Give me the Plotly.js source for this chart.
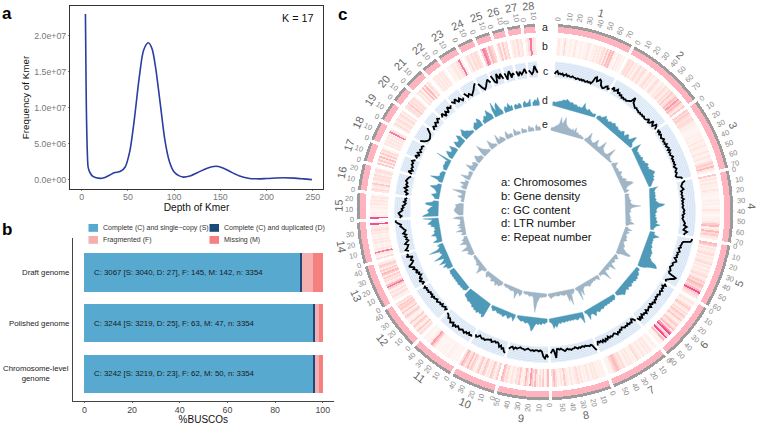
<!DOCTYPE html>
<html><head><meta charset="utf-8">
<script src="https://cdn.plot.ly/plotly-3.0.1.min.js"></script>
<style>html,body{margin:0;padding:0;background:#fff}#c{width:758px;height:425px}</style>
</head><body><div id="c"></div>
<script>
// ---- panel a
const kmerDepth=[4,4.5,5,6,7,9,12,20,25,30,35,42,47,52,57,62,67,72,76,80,85,90,95,100,105,110,118,125,135,145,152,160,170,180,190,200,218,230,240,249];
const kmerFreq=[2.3e7,1.6e7,1e7,4e6,1.7e6,1e6,5e5,2.2e5,3.5e5,6.5e5,1e6,1.2e6,1.8e6,4e6,8.5e6,1.4e7,1.8e7,1.9e7,1.82e7,1.55e7,1.05e7,5.5e6,2.5e6,1.1e6,6e5,4e5,6e5,1e6,1.6e6,1.9e6,1.7e6,1.2e6,6e5,2.5e5,1.6e5,2e5,3e5,2.5e5,1.5e5,5e4];
// ---- panel b
const assemblies=["Draft genome","Polished genome","Chromosome-level<br>genome"];
const buscoS=[90.64,95.97,95.97];
const buscoD=[0.81,0.75,0.69];
const buscoF=[4.32,1.88,1.85];
const buscoM=[4.23,1.40,1.49];
const buscoText=["C: 3067 [S: 3040, D: 27], F: 145, M: 142, n: 3354","C: 3244 [S: 3219, D: 25], F: 63, M: 47, n: 3354","C: 3242 [S: 3219, D: 23], F: 62, M: 50, n: 3354"];
const buscoNames=["Complete (C) and single\u2212copy (S)","Complete (C) and duplicated (D)","Fragmented (F)","Missing (M)"];
const buscoColors=["#57a9cf","#1d4a78","#f5afaf","#f67f7f"];
// ---- panel c
const chrLen=[76,79,72,71,63,59,59,59,52,44,44,43,44,41,26,26,19,19,19,16.5,19,16,19,15.5,14.5,12,13,11.5];
const chrTickMax=[70,70,70,70,60,60,50,50,50,40,40,40,40,30,20,20,10,10,10,10,10,10,10,10,10,10,10,10];
const geneDensity=[
[1,3,1,0,2,4,1,0,1,2,0,1,3,1,0,1,2,0,1,1,2,3,1,0,2,1,3,1,3,2,3,4,2,5,3,6,5,6,2,1,0,3,1,2,0,1],
[3,4,3,4,2,3,1,3,4,2,3,4,2,1,3,4,2,3,1,2,4,3,1,2,3,2,4,3,2,4,3,5,3,4,6,5,7,5,6,4,3,5],
[5,4,5,4,3,4,4,3,2,2,1,1,0,1,1,2,1,2,1,3,1,2,3,2,1,2,3,1,2,3,1,2,4,5,4,6,3,2],
[5,2,3,1,3,2,2,1,3,2,1,1,0,1,2,1,2,0,1,3,2,1,0,1,2,1,3,5,6,2,3,6,4,5,3,2],
[6,5,2,3,2,3,4,2,3,2,3,4,2,3,1,3,2,3,4,2,3,5,4,6,5,4,6,9,5,4,3],
[2,3,1,2,4,5,3,2,4,3,5,4,3,5,3,2,4,5,3,4,6,3,7,9,4,5,9,3,6,2,1,1],
[1,2,0,1,3,2,3,1,2,3,1,2,3,4,1,2,1,3,2,3,1,2,4,3,4,5,6,5,4,2,1,1],
[1,2,1,2,1,3,2,3,1,2,3,1,2,1,3,2,4,3,2,1,3,1,2,3,5,2,3,1,2,4,6,4],
[6,3,1,5,2,4,1,3,6,3,5,7,2,4,6,3,1,2,5,3,4,1,2,3,1,2,4,3,5,6],
[5,3,1,4,5,2,3,1,4,5,3,2,5,4,1,2,4,5,3,6,4,3,5,6,4],
[1,0,1,0,1,1,2,1,0,1,1,0,1,0,1,0,2,4,6,7,3,1,1,0,1,1],
[3,4,2,5,3,1,4,5,2,3,5,2,1,1,4,5,3,2,5,3,4,5,4,5,3,4],
[2,1,4,3,2,4,1,3,5,8,6,3,2,4,3,5,2,5,6,3,5,2,4,5,3,2],
[4,1,2,3,8,2,3,1,2,1,3,2,3,1,2,1,3,2,4,3,2,1,9,2],
[9,2,1,2,0,1,2,1,3,2,3,2,3,1],
[3,4,2,3,5,2,3,4,3,4,2,3,4,2],
[5,2,5,3,6,2,5,3,4,2],
[3,2,3,2,3,2,3,2,8,4,2],
[2,4,2,3,4,2,3,4,2,3],
[3,4,3,5,3,4,3,4,2],
[3,2,4,2,6,3,6,2,4,2],
[1,3,2,3,2,3,2,3,1],
[1,1,2,3,2,3,4,8,2],
[2,4,2,4,3,4,3],
[5,8,7,3,6,5,4],
[3,5,2,5,3,4],
[2,3,2,4,2,3],
[2,4,8,3,2]];
const gcContent=[
[4,6,7,4,5,4,5,3,4,5,3,4,3,3,4,3,3,2,3,3,2,3,2,3,2,2,3,2,3,2,4,9,10,6,7,9,8,4,3,2,3,5,6,3,5],
[5,8,5,6,8,5,6,4,5,3,4,3,4,3,4,5,6,11,6,5,4,3,4,3,3,2,3,2,3,2,3,2,2,3,5,2,3,7,4,3,7,6,3],
[6,4,6,3,5,4,3,4,5,3,4,3,5,3,4,5,3,5,3,4,3,4,5,3,4,3,4,3,4,2,3,4,3,2,3,2,1,2,6,7],
[9,6,5,4,5,6,3,4,3,4,3,5,3,4,3,4,3,4,5,4,5,3,4,3,4,5,6,5,8,6,5,9,7,6],
[15,15,14,7,6,6,5,6,4,5,6,4,5,4,5,3,5,6,4,3,4,3,2,3,4,3,4,12,11,8,6,4,5],
[5,7,4,6,5,7,5,6,7,5,6,5,7,6,8,6,7,5,8,6,7,8,6,9,7,8,6,9,7,10,6],
[7,4,3,6,5,6,4,6,5,6,5,4,6,5,7,6,8,6,5,6,7,6,7,5,8,6,9,6,8,6,7,5,9],
[13,10,7,6,7,6,6,5,6,5,5,6,5,6,5,4,5,5,6,5,5,4,5,6,5,4,3,4,3,3,12,6,3,5,7],
[11,8,12,10,5,4,5,4,4,5,4,5,4,3,4,5,4,4,3,4,5,4,6,4,5,7],
[12,11,8,9,6,8,5,4,5,4,5,6,4,5,5,6,7,6,7,6,5,7,8,6],
[10,9,10,8,10,9,11,10,9,10,11,10,9,11,10,12,9,10,11,9,8,9,7,6,6],
[3,5,3,4,5,3,5,4,5,6,4,5,6,5,7,5,6,5,7,6,7,6,8,6],
[8,5,7,9,5,7,6,4,6,5,8,6,7,9,7,10,12,9,7,6,8,7,5,11,9,10],
[7,10,8,7,6,9,7,5,7,6,8,6,9,7,6,8,9,11,10,13,15,15],
[11,9,11,12,10,8,9,7,8,6,5,7,5,6,4],
[6,4,7,5,8,5,7,6,8,7,6,4],
[4,8,4,6,5,7,6,8,5],
[4,7,3,6,3,5,4,5,3],
[9,5,3,2,2,3,4,7,10],
[3,6,4,7,5,8,6],
[5,8,3,7,4,9,6,8],
[10,7,10,5,8,4,6],
[9,4,6,3,5,7,10,12],
[10,5,2,4,7,10,6],
[12,5,3,12,6,11,5],
[10,3,8,11,4,8,6],
[9,4,8,5,7,10,5],
[8,6,4,6,12,8,5]];
const ltrNumber=[
[3,4,3,4,4,5,5,6,7,6,8,7,6,5,6,5,4,5,4,3,4,3,4,9,5,4,3,5,4,3,3,2,3,3],
[2,3,4,3,4,5,7,4,5,3,4,5,4,5,6,5,4,5,4,3,4,3,5,6,4,3,6,7,5,4,5,9,11,4,3,2],
[2,10,6,4,3,4,3,4,3,5,4,3,5,4,6,7,5,6,5,7,8,10,9,7,8,6,7,5,4,3,2],
[9,6,5,4,5,4,5,4,4,5,4,6,7,13,11,6,5,4,5,4,3,4,3,5,4,5,6,4,9,5,4,3,3],
[5,4,5,10,6,4,5,4,5,4,5,6,5,6,7,8,7,8,7,9,10,15,17,18,13,9,7,3],
[2,4,3,5,6,5,7,6,7,5,6,5,7,6,5,7,5,6,7,8,6,5,4,3],
[2,4,5,4,5,4,5,4,5,4,5,6,5,6,7,5,6,9,6,5,6,10,3,2],
[3,11,6,4,5,6,5,4,5,4,5,4,5,4,5,5,4,6,5,6,9,7,10,5,4,3],
[3,4,5,4,6,5,6,5,7,11,13,8,6,5,6,5,4,5,4,3,2],
[2,7,4,3,5,6,4,3,5,6,4,5,4,5,4,3,4,5,3,2],
[14,16,13,14,13,15,13,14,12,13,11,11,10,11,10,9,9,8],
[4,5,6,5,6,5,6,6,5,6,5,6,5,6,5,6,5,5],
[4,6,5,9,6,4,11,7,5,4,14,8,5,4,6,5,16,7,5,4,6,3],
[4,9,5,4,5,4,9,6,5,6,4,5,4,8,7,11,9,7,6,15],
[16,14,10,9,11,9,8,5,12,13,6,5],
[4,5,8,3,4,6,11,5,3],
[3,5,13,6,4,5,4,3],
[3,4,5,4,5,3,16],
[3,6,9,4,5,9,3],
[3,8,5,5,10,7],
[6,8,11,7,6,4,3,2],
[3,5,7,5,9,6],
[3,4,7,5,11,7,4],
[7,15,5,11,13,6,3],
[3,6,4,8,4,5],
[3,5,3,5,3],
[3,6,3,4,7],
[3,4,6,4,8,3]];
const repeatNumber=[
[2,3,3,4,5,6,7,14,8,10,15,9,7,6,5,5,4,6,3,8,3,4,3,2,3,2,2,1],
[2,3,10,4,3,2,3,8,3,2,3,11,4,3,2,2,3,12,3,2,1,2],
[2,3,6,3,2,2,3,2,3,5,3,2,3,2,4,6,4,7,10,11,5,3,2,5,2],
[3,4,3,3,4,3,5,4,4,5,7,14,5,4,3,4,3,2,3,3,4,3,5,3,6,8,3,2],
[2,3,7,2,5,3,2,3,4,3,5,3,2,3,4,5,4,6,8,14,13,4,3],
[2,3,5,3,2,4,3,2,3,9,3,2,4,3,2,3,12,4,3,2,3],
[2,5,3,2,3,2,3,3,4,5,3,3,2,3,4,10,4,14,3,2],
[2,3,5,3,15,8,11,3,3,4,3,3,2,3,3,3,2,3,3,4,5,3,2],
[2,3,3,3,4,3,6,9,19,12,5,3,3,4,3,2,3,2,2],
[3,6,4,3,10,5,3,3,4,3,3,2,3,2,2],
[3,4,6,4,7,5,4,5,6,3,4,3,6,4,3],
[2,3,3,10,6,4,3,5,3,3,2,3,2,2],
[3,4,6,4,5,10,4,3,4,9,4,6,3,3],
[2,5,3,3,9,4,3,6,3,7,3,4,3,3,4,10,7],
[4,6,8,9,8,7,8,3],
[2,3,2,7,3,3,13,3],
[3,6,3,8,3,4],
[3,10,3,3,4,3],
[3,10,5,4,6,3],
[3,6,8,5,4,3],
[3,13,7,5,3,2],
[2,10,5,3,2],
[2,10,3,6,4,2],
[3,8,3,4,3],
[2,7,3,3,2],
[2,5,3,3,2],
[2,6,3,4,2],
[3,6,3,4,2]];
const trackLegend=["a: Chromosomes","b: Gene density","c: GC content","d: LTR number","e: Repeat number"];
const trackLetters=["a","b","c","d","e"];

// ---- layout constants
const W=758,H=425,CX=545,CY=212,RMAX=192;
const startAngle=4,endAngle=357,gap=1;
const totalLen=chrLen.reduce((a,b)=>a+b,0);
const degPerMb=(endAngle-startAngle-gap*(chrLen.length-1))/totalLen;
const chrStart=[];let acc=startAngle;
chrLen.forEach(l=>{chrStart.push(acc);acc+=l*degPerMb+gap;});
const angle=(i,mb)=>chrStart[i]+mb*degPerMb;
const px=(th,r)=>({x:(CX+r*Math.sin(th*Math.PI/180))/W,y:1-(CY-r*Math.cos(th*Math.PI/180))/H});

const RB=[157,175],RC=[134.5,151],RD=107,RE=82;
const traces=[];
traces.push({type:'scatter',x:kmerDepth,y:kmerFreq,mode:'lines',line:{color:'#2b3d9f',width:1.6,shape:'spline',smoothing:0.8},xaxis:'x',yaxis:'y',showlegend:false,hoverinfo:'skip'});
[buscoS,buscoD,buscoF,buscoM].forEach((v,i)=>traces.push({type:'bar',orientation:'h',y:assemblies,x:v,name:buscoNames[i],marker:{color:buscoColors[i],line:{width:0}},xaxis:'x2',yaxis:'y2',showlegend:false,hoverinfo:'skip'}));
const chrMid=chrLen.map((l,i)=>angle(i,l/2)),chrSpan=chrLen.map(l=>l*degPerMb);
const ringBar=(base,h,color)=>({type:'barpolar',subplot:'polar',theta:chrMid,width:chrSpan,base:chrLen.map(()=>base),r:chrLen.map(()=>h),marker:{color:color,line:{width:0}},showlegend:false,hoverinfo:'skip'});
traces.push(ringBar(185.5,2.9,'#9b9b9b'));
traces.push(ringBar(179.5,6,'#ffb3be'));
traces.push(ringBar(RC[0],RC[1]-RC[0],'#eef4fb'));
const bT=[],bW=[],bV=[];
geneDensity.forEach((arr,i)=>{const w=chrLen[i]/arr.length;arr.forEach((v,k)=>{bT.push(angle(i,(k+.5)*w));bW.push(w*degPerMb+0.02);bV.push(v);});});
traces.push({type:'barpolar',subplot:'polar',theta:bT,width:bW,base:bT.map(()=>RB[0]),r:bT.map(()=>RB[1]-RB[0]),
 marker:{color:bV,cmin:0,cmax:9,line:{width:0},showscale:false,colorscale:[[0,'#fff7f5'],[0.22,'#ffefeb'],[0.45,'#ffdcd8'],[0.67,'#fdb8bb'],[0.89,'#f67aa8'],[1,'#ee4f96']]},showlegend:false,hoverinfo:'skip'});
const gT=[],gR=[];
for(let lv=1;lv<=9;lv++){const r=RC[0]+(RC[1]-RC[0])*lv/10;chrLen.forEach((l,i)=>{const n=Math.max(2,Math.ceil(l*degPerMb));for(let k=0;k<=n;k++){gT.push(angle(i,l*k/n));gR.push(r);}gT.push(null);gR.push(null);});}
traces.push({type:'scatterpolar',subplot:'polar',theta:gT,r:gR,mode:'lines',line:{color:'#c5daf1',width:0.7},connectgaps:false,showlegend:false,hoverinfo:'skip'});
const cT=[],cR=[];
gcContent.forEach((arr,i)=>{arr.forEach((v,k)=>{cT.push(angle(i,chrLen[i]*k/(arr.length-1)));cR.push(RC[0]+v);});cT.push(null);cR.push(null);});
traces.push({type:'scatterpolar',subplot:'polar',theta:cT,r:cR,mode:'lines',line:{color:'#000',width:1.8},connectgaps:false,showlegend:false,hoverinfo:'skip'});
function area(data,base,color){
 data.forEach((arr,i)=>{const T=[],R=[];arr.forEach((v,k)=>{T.push(angle(i,chrLen[i]*k/(arr.length-1)));R.push(base+v);});
  T.push(angle(i,chrLen[i]));R.push(base);T.push(angle(i,0));R.push(base);
  traces.push({type:'scatterpolar',subplot:'polar',theta:T,r:R,mode:'lines',fill:'toself',fillcolor:color,line:{color:color,width:0.4},showlegend:false,hoverinfo:'skip'});});
}
area(ltrNumber,RD,'#4f9ab9');
area(repeatNumber,RE,'#a0b5c6');
const tT=[],tR=[];
chrTickMax.forEach((m,i)=>{for(let v=0;v<=m;v+=10){const a=angle(i,v);tT.push(a,a,null);tR.push(188,189.2,null);}});
traces.push({type:'scatterpolar',subplot:'polar',theta:tT,r:tR,mode:'lines',line:{color:'#b5b5b5',width:0.5},connectgaps:false,showlegend:false,hoverinfo:'skip'});

const FF='Liberation Sans, Arial, sans-serif';
const ann=[];
const txt=(text,xp,yp,size,color,opt)=>ann.push(Object.assign({text:text,x:xp/W,y:1-yp/H,xref:'paper',yref:'paper',showarrow:false,font:{family:FF,size:size,color:color},xanchor:'center',yanchor:'middle',borderpad:0},opt||{}));
txt('<b>a</b>',7,13,17,'#000');txt('<b>b</b>',7,230,17,'#000');txt('<b>c</b>',342,14,17,'#000');
txt('K = 17',298,18,10.8,'#111');
chrLen.forEach((l,i)=>{
 const th=chrMid[i],p=px(th,207);
 const ang=(th<90||th>=270)?(th>=270?th-360:th):th-180;
 ann.push({text:String(i+1),x:p.x,y:p.y,xref:'paper',yref:'paper',showarrow:false,textangle:ang,font:{family:FF,size:11,color:'#666'},xanchor:'center',yanchor:'middle'});
 for(let v=0;v<=chrTickMax[i];v+=10){
  const a=angle(i,v),q=px(a,v<10?193.5:196.5);
  ann.push({text:String(v),x:q.x,y:q.y,xref:'paper',yref:'paper',showarrow:false,textangle:a<180?a-90:a-270,font:{family:FF,size:7.4,color:'#8a8a8a'},xanchor:'center',yanchor:'middle',borderpad:0});
 }
});
[[545,27],[545,46],[545,71],[545,100],[545,124]].forEach((c,i)=>txt(trackLetters[i],c[0],c[1],10.5,'#222'));
trackLegend.forEach((t,i)=>txt(t,500,182+i*13.8,11.3,'#111',{xanchor:'left'}));
assemblies.forEach((c,i)=>ann.push({text:c,xref:'paper',yref:'y2',x:70.5/W,y:c,xanchor:'right',yanchor:'middle',align:'center',showarrow:false,font:{family:FF,size:7.8,color:'#222'}}));
buscoText.forEach((t,i)=>ann.push({text:t,xref:'x2',yref:'y2',x:3,y:assemblies[i],xanchor:'left',yanchor:'middle',showarrow:false,font:{family:FF,size:7.8,color:'#1a1a1a'}}));
const shapes=[];
const legPos=[[88.5,224],[209.5,224],[88.5,236],[209.5,236]];
legPos.forEach((p,i)=>{
 shapes.push({type:'rect',xref:'paper',yref:'paper',x0:p[0]/W,x1:(p[0]+9.5)/W,y0:1-p[1]/H,y1:1-(p[1]+7.8)/H,fillcolor:buscoColors[i],line:{width:0}});
 txt(buscoNames[i],p[0]+13.2,p[1]+3.8,7,'#333',{xanchor:'left'});
});

const tickF={family:FF,size:8.8,color:'#777'};
const layout={
 width:W,height:H,margin:{l:0,r:0,t:0,b:0},paper_bgcolor:'#fff',plot_bgcolor:'#fff',showlegend:false,barmode:'stack',bargap:0.244,
 xaxis:{domain:[70/W,323/W],range:[-12.7,261],anchor:'y',tickvals:[0,50,100,150,200,250],showgrid:false,zeroline:false,showline:true,mirror:true,linecolor:'#333',linewidth:1,ticks:'outside',ticklen:1,ticklabelstandoff:-2,tickcolor:'#888',tickfont:tickF,
  title:{text:'Depth of Kmer',font:{family:FF,size:10.2,color:'#111'},standoff:1}},
 yaxis:{domain:[1-189/H,1-6/H],range:[-1.25e6,2.41e7],anchor:'x',tickvals:[0,5e6,1e7,1.5e7,2e7],ticktext:['0.0e+00','5.0e+06','1.0e+07','1.5e+07','2.0e+07'],showgrid:false,zeroline:false,showline:true,mirror:true,linecolor:'#333',linewidth:1,ticks:'outside',ticklen:1,tickcolor:'#888',tickfont:tickF,
  title:{text:'Frequency of Kmer',font:{family:FF,size:9.8,color:'#111'},standoff:2}},
 xaxis2:{domain:[72.7/W,334/W],range:[-4.9,104.7],anchor:'y2',tickvals:[0,20,40,60,80,100],showgrid:false,zeroline:false,showline:true,linecolor:'#444',linewidth:1,ticks:'outside',ticklen:1,tickcolor:'#666',tickfont:{family:FF,size:8.8,color:'#444'},
  title:{text:'%BUSCOs',font:{family:FF,size:10,color:'#111'},standoff:1}},
 yaxis2:{domain:[1-400.7/H,1-238/H],range:[2.53,-0.68],anchor:'x2',type:'category',categoryorder:'array',categoryarray:assemblies,showgrid:false,zeroline:false,showline:true,linecolor:'#444',linewidth:1,ticks:'',showticklabels:false},
 polar:{domain:{x:[(CX-RMAX)/W,(CX+RMAX)/W],y:[1-(CY+RMAX)/H,1-(CY-RMAX)/H]},bgcolor:'rgba(0,0,0,0)',barmode:'overlay',bargap:0,
  radialaxis:{visible:false,range:[0,RMAX]},angularaxis:{visible:false,rotation:90,direction:'clockwise',thetaunit:'degrees'}},
 annotations:ann,shapes:shapes
};
Plotly.newPlot('c',traces,layout,{displayModeBar:false,staticPlot:true});
</script></body></html>
